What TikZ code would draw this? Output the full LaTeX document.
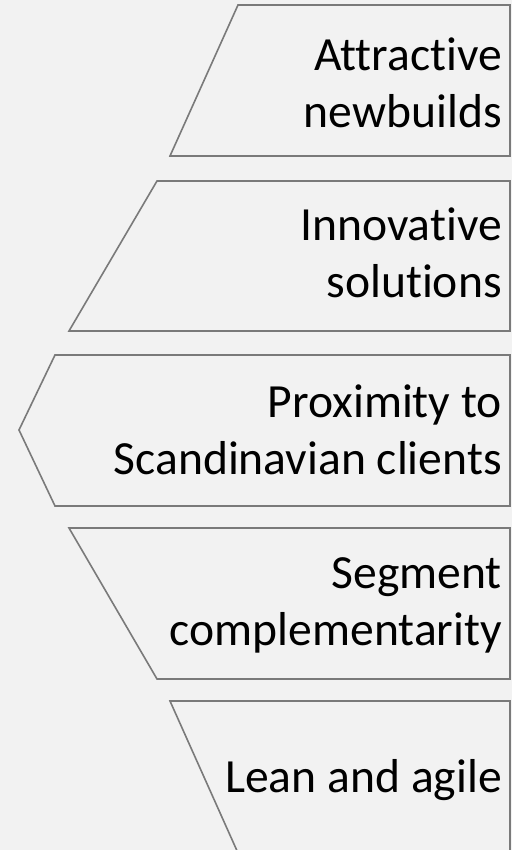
\documentclass[tikz,border=0pt]{standalone}
\usepackage{fontspec}
\setmainfont[Ligatures={NoCommon}]{Carlito}
\usetikzlibrary{positioning}

\definecolor{panelbg}{HTML}{F2F2F2}
\definecolor{panelline}{HTML}{7A7A7A}

\begin{document}
\begin{tikzpicture}[x=1pt,y=1pt,
  panel/.style={draw=panelline,line width=1.6pt,fill=panelbg,line join=miter},
  label/.style={anchor=east,align=right,inner sep=0pt,
    font=\fontsize{47.6}{57}\selectfont,text=black}]
\fill[panelbg] (0,0) rectangle (512,850);
\useasboundingbox (0,0) rectangle (512,850);
\begin{scope}
\clip (0,0) rectangle (512,850);
% the five panels, top to bottom
\draw[panel] (238,845) -- (510,845) -- (510,694) -- (170,694) -- cycle;
\draw[panel] (157,669) -- (510,669) -- (510,519) -- (69,519) -- cycle;
\draw[panel] (55,495) -- (510,495) -- (510,344) -- (55,344) -- (19,420) -- cycle;
\draw[panel] (69,322) -- (510,322) -- (510,171) -- (157,171) -- cycle;
\draw[panel] (170,149) -- (510,149) -- (510,-3) -- (238,-3) -- cycle;
\end{scope}
% texts
\node[label] (newbuilds) at (502,767.5) {Attractive\\newbuilds};
\node[label] (solutions) at (502,597) {Innovative\\solutions};
\node[label] (proximity) at (502,420.5) {Proximity to\\Scandinavian clients};
\node[label] (segment) at (502,245) {Segment\\complementarity};
\node[label] (lean) at (502,69.5) {Lean and agile};
\end{tikzpicture}
\end{document}
